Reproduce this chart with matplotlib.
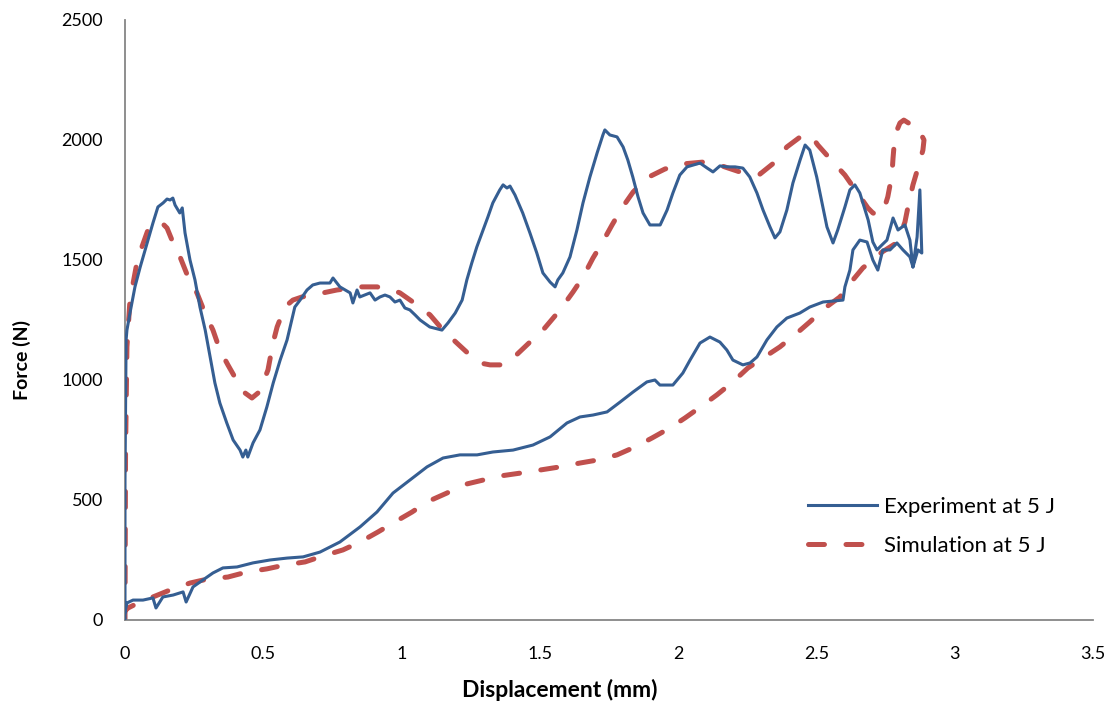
import matplotlib
matplotlib.use("Agg")
import matplotlib.pyplot as plt

plt.rcParams['font.family'] = ['Lato', 'DejaVu Sans']

# ---------------- data ----------------
exp_load_x = [0, 0, 0.004, 0.007, 0.018, 0.036, 0.055, 0.080, 0.101, 0.119, 0.138, 0.152, 0.163, 0.173, 0.181,
              0.198, 0.207, 0.217, 0.235, 0.253, 0.271, 0.290, 0.308, 0.325, 0.343, 0.368, 0.391, 0.416, 0.426,
              0.437, 0.444, 0.463, 0.488, 0.513, 0.536, 0.561, 0.586, 0.603, 0.614, 0.633, 0.658, 0.679, 0.705,
              0.741, 0.752, 0.777, 0.796, 0.814, 0.824, 0.839, 0.849, 0.886, 0.904, 0.922, 0.940, 0.958, 0.976,
              0.994, 1.012, 1.030, 1.049, 1.067, 1.102, 1.146, 1.168, 1.194, 1.219, 1.236, 1.254, 1.272, 1.291,
              1.312, 1.330, 1.355, 1.367, 1.381, 1.392, 1.410, 1.438, 1.464, 1.489, 1.511, 1.537, 1.555, 1.565,
              1.583, 1.609, 1.634, 1.656, 1.681, 1.707, 1.728, 1.735, 1.753, 1.779, 1.801, 1.818, 1.836, 1.855,
              1.873, 1.898, 1.935, 1.960, 1.981, 2.006, 2.032, 2.079, 2.105, 2.126, 2.151, 2.176, 2.206, 2.234,
              2.259, 2.285, 2.307, 2.332, 2.350, 2.368, 2.393, 2.415, 2.441, 2.459, 2.476, 2.501, 2.520, 2.538,
              2.560, 2.577, 2.603, 2.621, 2.639, 2.657, 2.687, 2.704, 2.719, 2.737, 2.755, 2.777, 2.795, 2.820,
              2.838, 2.849, 2.864, 2.874, 2.881]
exp_load_f = [0, 583, 1167, 1208, 1279, 1388, 1471, 1571, 1654, 1721, 1738, 1754, 1750, 1758, 1729,
              1696, 1717, 1613, 1500, 1417, 1304, 1208, 1096, 988, 904, 821, 750, 708, 679,
              708, 679, 738, 792, 888, 988, 1083, 1167, 1250, 1304, 1333, 1375, 1396, 1404,
              1404, 1425, 1388, 1375, 1363, 1321, 1375, 1346, 1363, 1333, 1346, 1354, 1346, 1325,
              1333, 1300, 1292, 1271, 1250, 1221, 1208, 1238, 1279, 1333, 1417, 1488, 1554, 1613,
              1679, 1738, 1792, 1813, 1800, 1808, 1771, 1696, 1613, 1529, 1446, 1408, 1388, 1417,
              1446, 1513, 1625, 1738, 1846, 1946, 2021, 2042, 2021, 2013, 1971, 1917, 1846, 1763,
              1696, 1646, 1646, 1708, 1779, 1854, 1888, 1904, 1883, 1867, 1892, 1888, 1888, 1883,
              1846, 1779, 1708, 1638, 1592, 1617, 1708, 1821, 1917, 1979, 1958, 1846, 1738, 1638,
              1571, 1625, 1721, 1792, 1813, 1779, 1667, 1575, 1542, 1563, 1583, 1675, 1625, 1646,
              1583, 1471, 1596, 1792, 1529]

exp_unload_x = [2.881, 2.867, 2.849, 2.838, 2.813, 2.791, 2.766, 2.740, 2.722, 2.704, 2.683, 2.657, 2.632,
                2.621, 2.603, 2.596, 2.524, 2.476, 2.440, 2.393, 2.357, 2.321, 2.285, 2.260, 2.234, 2.198,
                2.176, 2.151, 2.115, 2.079, 2.043, 2.017, 1.981, 1.934, 1.916, 1.887, 1.837, 1.790, 1.743,
                1.692, 1.645, 1.598, 1.537, 1.475, 1.403, 1.330, 1.273, 1.211, 1.150, 1.092, 1.030, 0.969,
                0.911, 0.850, 0.777, 0.705, 0.644, 0.586, 0.524, 0.463, 0.405, 0.354, 0.318, 0.282, 0.246,
                0.221, 0.210, 0.174, 0.137, 0.112, 0.101, 0.065, 0.029, 0.007, 0]
exp_unload_f = [1529, 1542, 1471, 1513, 1542, 1571, 1542, 1542, 1458, 1500, 1575, 1583, 1542,
                1458, 1388, 1333, 1325, 1304, 1279, 1258, 1221, 1167, 1096, 1071, 1063, 1083,
                1125, 1158, 1179, 1154, 1083, 1029, 979, 979, 1000, 992, 950, 908, 867,
                854, 846, 821, 763, 729, 708, 700, 688, 688, 675, 638, 583, 529,
                450, 388, 325, 283, 263, 258, 250, 238, 221, 217, 196, 167, 138,
                75, 117, 104, 96, 50, 92, 83, 83, 71, 33]

sim_load_x = [0, 0.002, 0.007, 0.018, 0.043, 0.061, 0.083, 0.116, 0.134, 0.152, 0.174, 0.199, 0.228, 0.260,
              0.289, 0.318, 0.343, 0.372, 0.409, 0.434, 0.459, 0.481, 0.499, 0.517, 0.535, 0.550, 0.578,
              0.607, 0.640, 0.716, 0.766, 0.850, 0.911, 0.958, 0.994, 1.041, 1.103, 1.150, 1.200, 1.247,
              1.283, 1.320, 1.356, 1.381, 1.446, 1.518, 1.573, 1.620, 1.656, 1.692, 1.725, 1.761, 1.797,
              1.837, 1.887, 1.952, 2.014, 2.090, 2.158, 2.223, 2.296, 2.350, 2.393, 2.451, 2.484, 2.505,
              2.560, 2.603, 2.646, 2.686, 2.704, 2.722, 2.740, 2.758, 2.773, 2.777, 2.784, 2.802, 2.816,
              2.838, 2.860, 2.878, 2.889]
sim_load_f = [0, 700, 1138, 1333, 1488, 1554, 1625, 1658, 1654, 1633, 1571, 1513, 1429, 1363,
              1279, 1208, 1125, 1063, 988, 946, 925, 946, 988, 1042, 1154, 1221, 1304,
              1333, 1346, 1363, 1375, 1388, 1388, 1379, 1363, 1325, 1271, 1208, 1154, 1104,
              1071, 1063, 1063, 1067, 1138, 1217, 1292, 1367, 1429, 1508, 1571, 1646, 1717,
              1783, 1842, 1879, 1900, 1908, 1892, 1867, 1858, 1908, 1971, 2021, 2013, 1979,
              1908, 1854, 1783, 1717, 1696, 1688, 1696, 1763, 1854, 1925, 2021, 2071, 2083,
              2067, 2029, 2025, 2000]

sim_unload_x = [2.889, 2.885, 2.867, 2.849, 2.831, 2.820, 2.802, 2.784, 2.737, 2.668, 2.632, 2.585, 2.531,
                2.476, 2.430, 2.368, 2.307, 2.252, 2.198, 2.140, 2.086, 2.025, 1.970, 1.905, 1.844, 1.779,
                1.710, 1.645, 1.573, 1.500, 1.435, 1.356, 1.294, 1.222, 1.164, 1.092, 1.038, 0.969, 0.915,
                0.850, 0.788, 0.716, 0.651, 0.578, 0.513, 0.441, 0.372, 0.300, 0.235, 0.163, 0.101, 0.054,
                0.011, 0]
sim_unload_f = [2000, 1958, 1883, 1813, 1721, 1658, 1600, 1567, 1533, 1467, 1417, 1346, 1300,
                1242, 1196, 1138, 1092, 1050, 992, 938, 892, 842, 800, 758, 721, 688,
                667, 654, 638, 625, 613, 600, 583, 563, 529, 492, 450, 404, 367,
                325, 292, 267, 242, 229, 213, 200, 179, 171, 154, 125, 96, 75,
                50, 38]

x_ticks = [0, 0.5, 1, 1.5, 2, 2.5, 3, 3.5]
x_tick_labels = ['0', '0.5', '1', '1.5', '2', '2.5', '3', '3.5']
y_ticks = [0, 500, 1000, 1500, 2000, 2500]

series_labels = ['Experiment at 5 J', 'Simulation at 5 J']
x_label = 'Displacement (mm)'
y_label = 'Force (N)'

# ---------------- plot ----------------
W, H = 1114, 704
fig = plt.figure(figsize=(W / 100, H / 100), dpi=100)
ax = fig.add_axes([125 / W, 84 / H, (1093 - 125) / W, (620 - 20) / H])

blue = '#355E92'
red = '#C0504D'

exp_x = exp_load_x + exp_unload_x
exp_f = exp_load_f + exp_unload_f
sim_x = sim_load_x + sim_unload_x
sim_f = sim_load_f + sim_unload_f

plt.rcParams['lines.scale_dashes'] = False
ln_exp, = ax.plot(exp_x, exp_f, color=blue, lw=2.2, solid_joinstyle='round', label=series_labels[0], zorder=3)
ln_sim, = ax.plot(sim_x, sim_f, color=red, lw=3.6, dashes=[11.5, 15.5], dash_capstyle='round',
                  label=series_labels[1], zorder=2)

ax.set_xlim(0, 3.5)
ax.set_ylim(0, 2500)
ax.set_xticks(x_ticks)
ax.set_xticklabels(x_tick_labels)
ax.set_yticks(y_ticks)
ax.tick_params(length=0, labelsize=13, colors='black')
ax.tick_params(axis='x', pad=19)
ax.tick_params(axis='y', pad=16)

for s in ['top', 'right']:
    ax.spines[s].set_visible(False)
for s in ['left', 'bottom']:
    ax.spines[s].set_color('#868686')
    ax.spines[s].set_linewidth(1.3)

fig.text(560 / W, 1 - 690 / H, x_label, fontsize=16.5, fontweight='bold', ha='center', va='center')
fig.text(22 / W, 1 - 360 / H, y_label, fontsize=14, fontweight='bold', ha='center', va='center',
         rotation=90)

leg = fig.legend(handles=[ln_exp, ln_sim], loc='upper left',
                 bbox_to_anchor=(808 / W, 1 - 497 / H), bbox_transform=fig.transFigure,
                 frameon=False, fontsize=16, handlelength=3.1, handletextpad=0.3,
                 labelspacing=0.85, borderpad=0, borderaxespad=0)

fig.savefig('out.png', dpi=100)
